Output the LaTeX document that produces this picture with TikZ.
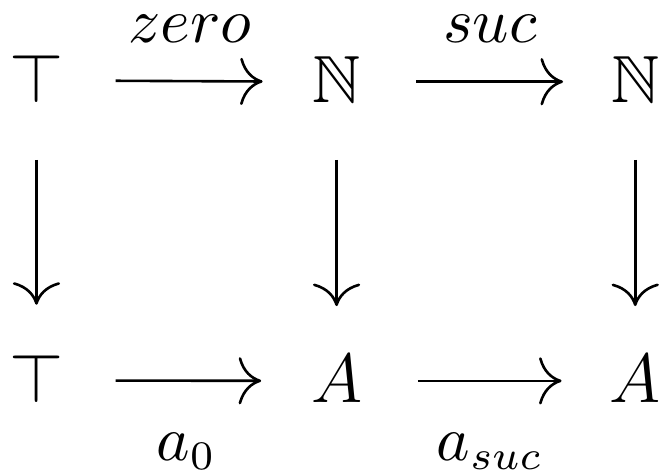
\documentclass[tikz,border=0pt]{standalone}
\usepackage{amsmath}
\usepackage{amssymb}
\usetikzlibrary{arrows.meta}
\tikzset{
  obj/.style={inner sep=0pt, anchor=base, font=\fontsize{11.5pt}{14pt}\selectfont},
  lbl/.style={inner sep=0pt, anchor=base, font=\fontsize{10.5pt}{13pt}\selectfont},
  map/.style={-{Computer Modern Rightarrow[scale=1.5]}, line width=0.45pt},
}
\begin{document}
\begin{tikzpicture}
  \useasboundingbox (0,0) rectangle (4.0,2.867);
  % objects
  \node[obj] (t1) at (0.221,2.243) {$\top$};
  \node[obj] (n1) at (2.040,2.243) {$\mathbb{N}$};
  \node[obj] (n2) at (3.850,2.243) {$\mathbb{N}$};
  \node[obj] (t2) at (0.221,0.425) {$\top$};
  \node[obj] (a1) at (2.040,0.425) {$A$};
  \node[obj] (a2) at (3.850,0.425) {$A$};

  % horizontal maps
  \draw[map, shorten <=8.8pt, shorten >=8.4pt] ([yshift=-0.3pt]t1.east) -- ([yshift=-0.3pt]n1.west);
  \draw[map, shorten <=9.4pt, shorten >=8.1pt] ([yshift=-0.3pt]n1.east) -- ([yshift=-0.3pt]n2.west);
  \draw[map, shorten <=8.8pt, shorten >=8.4pt] ([yshift=-0.3pt]t2.east) -- ([yshift=-0.3pt]a1.west);
  \draw[map, shorten <=9.4pt, shorten >=8.1pt] ([yshift=-0.3pt]a1.east) -- ([yshift=-0.3pt]a2.west);

  % vertical maps
  \draw[map, shorten <=9.6pt, shorten >=8.4pt] (t1.south) -- (t2.north);
  \draw[map, shorten <=9.6pt, shorten >=8.3pt] (n1.south) -- (a1.north);
  \draw[map, shorten <=9.6pt, shorten >=8.3pt] (n2.south) -- (a2.north);

  % labels
  \node[lbl] (lz) at (1.152,2.612) {$zero$};
  \node[lbl] (ls) at (2.970,2.612) {$suc$};
  \node[lbl] (la) at (1.130,0.079) {$a_0$};
  \node[lbl] (lb) at (2.970,0.079) {$a_{suc}$};
\end{tikzpicture}
\end{document}
